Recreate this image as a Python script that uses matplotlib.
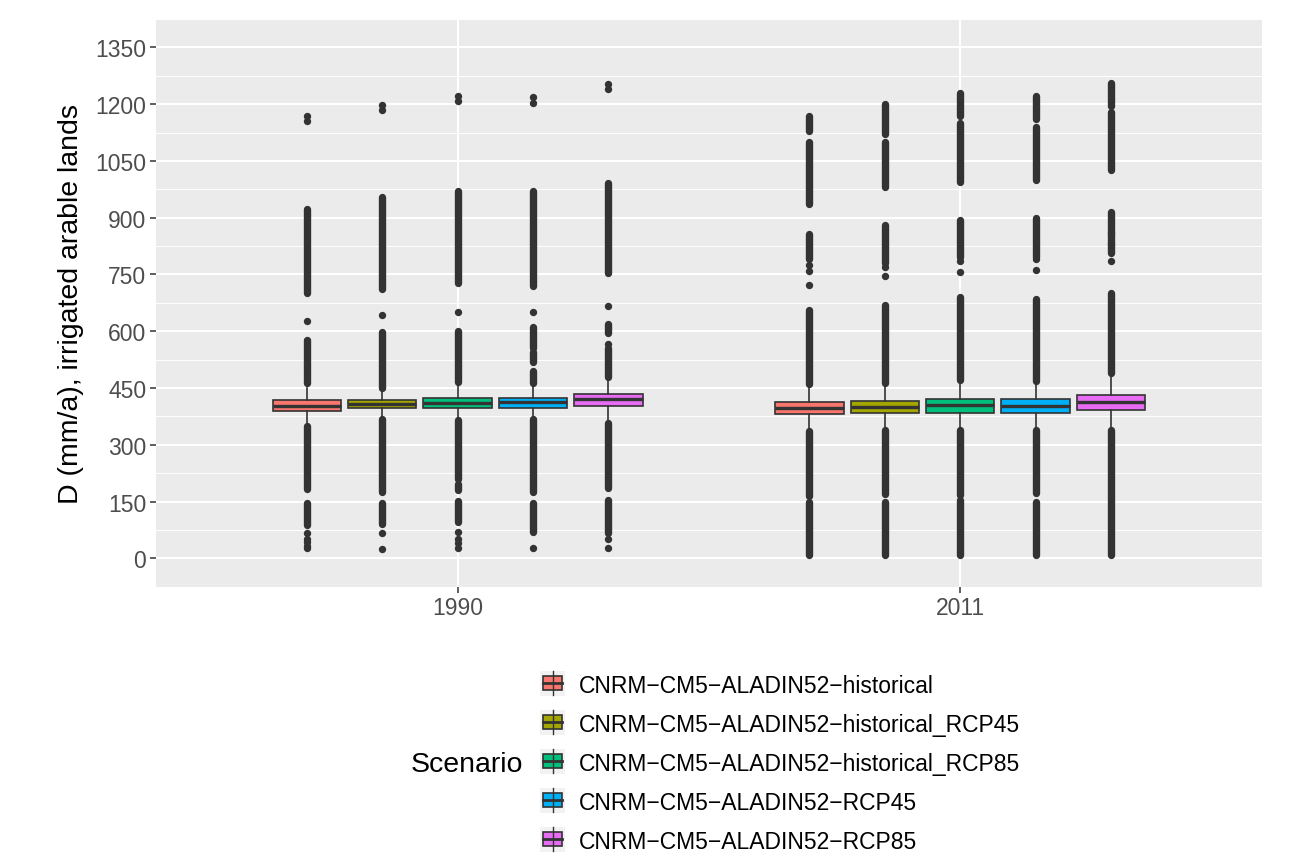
import matplotlib.pyplot as plt
from matplotlib.patches import Rectangle

plt.rcParams['font.family'] = ['Liberation Sans', 'DejaVu Sans']

# categories
years = ['1990', '2011']
scenarios = ['CNRM\u2212CM5\u2212ALADIN52\u2212historical',
             'CNRM\u2212CM5\u2212ALADIN52\u2212historical_RCP45',
             'CNRM\u2212CM5\u2212ALADIN52\u2212historical_RCP85',
             'CNRM\u2212CM5\u2212ALADIN52\u2212RCP45',
             'CNRM\u2212CM5\u2212ALADIN52\u2212RCP85']
colors = ['#F8766D', '#A3A500', '#00BF7D', '#00B0F6', '#E76BF3']

y_ticks = [0, 150, 300, 450, 600, 750, 900, 1050, 1200, 1350]
y_minor = [-75, 75, 225, 375, 525, 675, 825, 975, 1125, 1275, 1425]

# box statistics, one value per scenario
q1 = {'1990': [389, 396, 396, 398, 402], '2011': [380, 384, 385, 385, 391]}
med = {'1990': [403, 407, 411, 413, 420], '2011': [398, 401, 405, 403, 413]}
q3 = {'1990': [418, 418, 424, 424, 435], '2011': [413, 416, 422, 420, 431]}
whislo = {'1990': [352, 371, 368, 370, 361], '2011': [343, 345, 345, 345, 345]}
whishi = {'1990': [450, 440, 461, 457, 474], '2011': [453, 457, 466, 463, 483]}

# outliers: dense runs of overlapping points (low, high) and single points
out_runs = {
    '1990': [
        [(183, 350), (88, 145), (462, 575), (700, 922)],
        [(175, 368), (90, 147), (450, 597), (712, 955)],
        [(210, 365), (180, 197), (95, 152), (467, 600), (728, 970)],
        [(175, 368), (70, 147), (462, 495), (520, 545), (555, 610), (720, 970)],
        [(185, 358), (68, 155), (480, 555), (595, 620), (755, 992)],
    ],
    '2011': [
        [(165, 337), (8, 150), (460, 655), (790, 858), (937, 1100), (1128, 1170)],
        [(170, 340), (8, 148), (463, 670), (780, 880), (980, 1100), (1120, 1200)],
        [(168, 340), (8, 155), (470, 690), (795, 895), (995, 1150), (1170, 1230)],
        [(173, 340), (8, 150), (468, 685), (795, 898), (1000, 1140), (1160, 1222)],
        [(8, 340), (490, 702), (808, 916), (1025, 1180), (1195, 1256)],
    ],
}
out_points = {
    '1990': [
        [627, 577, 1155, 1168, 68, 52, 42, 32, 26],
        [642, 1185, 1198, 68, 24],
        [652, 1208, 1222, 70, 52, 40, 28],
        [652, 1203, 1218, 27],
        [667, 565, 1240, 1252, 51, 26],
    ],
    '2011': [
        [775, 760, 723],
        [745, 770],
        [757, 785],
        [761, 790],
        [785, 860, 830],
    ],
}

dark = '#333333'

fig = plt.figure(figsize=(13.04, 8.54), dpi=100)
ax = fig.add_axes([156 / 1304, 1 - 587.7 / 854, (1261.7 - 156) / 1304, (587.7 - 20) / 854])
ax.set_facecolor('#EBEBEB')

for yi, year in enumerate(years):
    for si in range(len(scenarios)):
        pos = yi + 1 + (si - 2) * 0.15
        stats = dict(med=med[year][si], q1=q1[year][si], q3=q3[year][si],
                     whislo=whislo[year][si], whishi=whishi[year][si],
                     fliers=out_points[year][si])
        ax.bxp([stats], positions=[pos], widths=0.136, patch_artist=True,
               showcaps=False, manage_ticks=False,
               boxprops=dict(facecolor=colors[si], edgecolor=dark, linewidth=1.2),
               medianprops=dict(color=dark, linewidth=2.4),
               whiskerprops=dict(color=dark, linewidth=1.2),
               flierprops=dict(marker='o', markersize=5.3, markerfacecolor=dark,
                               markeredgecolor='none'))
        for lo, hi in out_runs[year][si]:
            ax.plot([pos, pos], [lo, hi], color=dark, linewidth=5.3,
                    solid_capstyle='round', zorder=2)

ax.set_xlim(0.4, 2.6)
ax.set_ylim(-68, 1415)
ax.set_xticks([1, 2])
ax.set_xticklabels(years)
ax.set_yticks(y_ticks)
ax.set_yticks(y_minor, minor=True)
ax.grid(which='major', color='white', linewidth=1.45)
ax.grid(which='minor', axis='y', color='white', linewidth=0.7)
ax.set_axisbelow(True)
for s in ax.spines.values():
    s.set_visible(False)
ax.tick_params(which='major', length=4, width=1.1, color=dark, labelcolor='#4D4D4D',
               labelsize=16.5, pad=3)
ax.tick_params(which='minor', length=0)
ax.set_ylabel('D (mm/a), irrigated arable lands', fontsize=20.5, color='black', labelpad=8)

# legend drawn in figure pixel space
lax = fig.add_axes([0, 0, 1, 1])
lax.set_xlim(0, 1304)
lax.set_ylim(854, 0)
lax.axis('off')
for si, (lab, c) in enumerate(zip(scenarios, colors)):
    cy = 684 + 39 * si
    lax.add_patch(Rectangle((540, cy - 12.5), 25, 25, facecolor='#F2F2F2', edgecolor='none'))
    lax.plot([552.5, 552.5], [cy - 12, cy + 12], color=dark, linewidth=1.0)
    lax.add_patch(Rectangle((542.5, cy - 7), 19, 14, facecolor=c, edgecolor=dark, linewidth=1.2))
    lax.plot([542.5, 561.5], [cy, cy], color=dark, linewidth=2.0)
    lax.text(579, cy, lab, fontsize=16.5, va='center_baseline', ha='left', color='black')
lax.text(523.5, 762, 'Scenario', fontsize=20.5, va='center_baseline', ha='right', color='black')

fig.savefig('out.png', dpi=100)
